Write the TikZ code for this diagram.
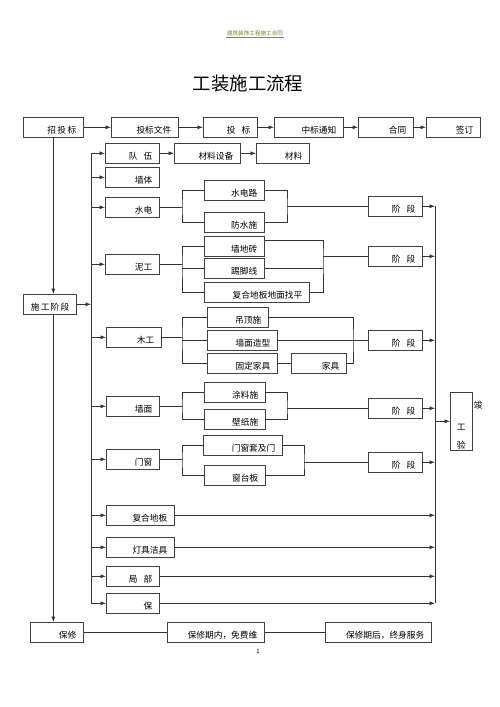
\documentclass[tikz,border=0pt]{standalone}
\usepackage{fontspec}
\setmainfont{Noto Sans CJK SC}
\usetikzlibrary{arrows.meta}
\definecolor{hdcol}{RGB}{120,130,40}
\newcommand\kg{\hspace{6pt}}

\begin{document}
\begin{tikzpicture}[x=1pt, y=-1pt,
    box/.style={draw=black!75, line width=0.6pt, anchor=north west, minimum height=20pt,
      inner xsep=7pt, inner ysep=2.5pt, text width=#1-14pt, align=right,
      text height=14pt, text depth=1pt, font=\fontsize{8.7}{10}\selectfont},
    jl/.style={font=\fontsize{8.7}{10}\selectfont, inner sep=0pt},
    ln/.style={draw=black!80, line width=0.7pt},
    arr/.style={ln, -{Latex[length=5.5pt,width=4pt]}}]
\useasboundingbox (0,0) rectangle (500,707);
\fill[white] (0,0) rectangle (500,707);

\node[text=hdcol, font=\fontsize{5.6}{6}\selectfont, inner sep=1pt] (hd) at (255,33) {建筑装饰工程施工合同};
\draw[gray, line width=0.4pt] (hd.south west) -- (hd.south east);
\node[font=\fontsize{18.4}{20}\selectfont, inner sep=0pt] (title) at (248,84) {工装施工流程};

% zhaobiao row
\node[box=60pt] (zb) at (23,117) {招\,投\,标};
\node[box=67pt] (tbwj) at (111,117) {投标文件};
\node[box=54pt] (tb) at (203,117) {投\kg 标};
\node[box=69pt] (zbtz) at (274,117) {中标通知};
\node[box=55pt] (ht) at (358,117) {合同};
\node[box=54pt] (qd) at (426,117) {签订};

\draw[arr] (zb) -- (tbwj);
\draw[arr] (tbwj) -- (tb);
\draw[arr] (tb) -- (zbtz);
\draw[arr] (zbtz) -- (ht);
\draw[arr] (ht) -- (qd);

\node[box=53pt] (sgjd) at (23,294) {\mbox{施\hspace{1.2pt}工\hspace{1.2pt}阶\hspace{1.2pt}段}};
\node[box=53pt] (bx) at (30,622) {保修};
\node[box=97pt] (bxn) at (167,622) {保修期内，免费维};
\node[box=106pt] (bxh) at (325,622) {保修期后，终身服务};

\draw[arr] (zb.south) -- (zb.south |- sgjd.north);
\draw[arr] (sgjd.south -| zb.south) -- (bx.north -| zb.south);
\draw[ln] (bx) -- (bxn);
\draw[ln] (bxn) -- (bxh);

% shigong
\node[box=54pt] (dw) at (105,143) {队\kg 伍};
\node[box=66pt] (clsb) at (174,143) {材料设备};
\node[box=53pt] (cl) at (256,143) {材料};
\node[box=54pt] (qt) at (105,167) {墙体};
\node[box=54pt] (sd) at (105,197) {水电};
\node[box=60pt] (sdl) at (204,180) {水电路};
\node[box=60pt] (fs) at (204,212) {防水施};
\node[box=54pt] (ng) at (105,254) {泥工};
\node[box=60pt] (qdz) at (204,236) {墙地砖};
\node[box=60pt] (tjx) at (204,258) {踢脚线};
\node[box=105pt] (fhzp) at (204,282) {复合地板地面找平};
\node[box=55pt] (mg) at (106,327) {木工};
\node[box=61pt] (dd) at (207,307) {吊顶施};
\node[box=70pt] (qmzx) at (207,330) {墙面造型};
\node[box=70pt] (gdjj) at (207,353) {固定家具};
\node[box=55pt] (jj) at (291,353) {家具};
\node[box=53pt] (qm) at (106,396) {墙面};
\node[box=61pt] (tl) at (204,382) {涂料施};
\node[box=61pt] (bz) at (204,409) {壁纸施};
\node[box=53pt] (mc) at (106,449) {门窗};
\node[box=79pt] (mct) at (203,435) {门窗套及门};
\node[box=61pt] (ctb) at (204,465) {窗台板};
\node[box=68pt] (fhdb) at (106,505) {复合地板};
\node[box=68pt] (djjj) at (106,537) {灯具洁具};
\node[box=53pt] (jb) at (106,566) {局\kg 部};
\node[box=53pt] (bao) at (106,593) {保};

\node[box=54pt] (jd1) at (368,196) {阶\kg 段};
\node[box=54pt] (jd2) at (368,246) {阶\kg 段};
\node[box=54pt] (jd3) at (368,330) {阶\kg 段};
\node[box=54pt] (jd4) at (368,398) {阶\kg 段};
\node[box=54pt] (jd5) at (368,452) {阶\kg 段};

\node[draw=black!75, line width=0.6pt, anchor=north west, minimum width=22pt,
  minimum height=58pt, inner sep=0pt,
  label={[jl, anchor=north west, xshift=1pt, yshift=-9pt]north east:竣},
  label={[jl, yshift=-6pt]center:工},
  label={[jl, yshift=-24pt]center:验}] (jgy) at (450,392) {};

\coordinate (bus) at (91,153);
\coordinate (rbus) at (435,206);
\coordinate (lb) at (182,0);
\coordinate (r1) at (287,0);
\coordinate (r2) at (323,0);
\coordinate (r3) at (353,0);
\coordinate (r5) at (304,0);

\draw[ln] (bus |- dw) -- (bus |- bao);
\draw[arr] (sgjd) -- (sgjd -| bus);
\foreach \n in {dw,qt,sd,ng,mg,qm,mc,fhdb,djjj,jb,bao}
  \draw[arr] (\n -| bus) -- (\n);
\draw[arr] (dw) -- (clsb);
\draw[arr] (clsb) -- (cl);

\draw[ln] (sd) -- (sd -| lb);
\draw[ln] (sdl.west) -| (sd -| lb) |- (fs.west);
\draw[ln] (sdl.east) -| (jd1 -| r1) |- (fs.east);
\draw[ln] (jd1 -| r1) -- (jd1);

\draw[ln] (ng) -- (ng -| lb);
\draw[ln] (qdz.west) -| (ng -| lb) |- (fhzp.west);
\draw[ln] (tjx.west) -- (tjx.west -| lb);
\draw[ln] ([yshift=-4pt]qdz.north east) -| (jd2 -| r2) |- (fhzp.east);
\draw[ln] (tjx.east) -- (tjx.east -| r2);
\draw[ln] (jd2 -| r2) -- (jd2);

\draw[ln] (mg) -- (mg -| lb);
\draw[ln] (dd.west) -| (mg -| lb) |- (gdjj.west);
\draw[ln] (qmzx.west) -- (qmzx.west -| lb);
\draw[ln] (dd.east) -| (jd3 -| r3) |- (jj.east);
\draw[ln] (qmzx) -- (jd3);
\draw[ln] (gdjj) -- (jj);

\draw[ln] (qm) -- (qm -| lb);
\draw[ln] (tl.west) -| (qm -| lb) |- (bz.west);
\draw[ln] (tl.east) -| (jd4 -| r1) |- (bz.east);
\draw[ln] (jd4 -| r1) -- (jd4);

\draw[ln] (mc) -- (mc -| lb);
\draw[ln] (mct.west) -| (mc -| lb) |- (ctb.west);
\draw[ln] (mct.east) -| (jd5 -| r5) |- (ctb.east);
\draw[ln] (jd5 -| r5) -- (jd5);

\draw[ln] (rbus |- jd1) -- (rbus |- bao);
\foreach \n in {jd1,jd2,jd3,jd4,jd5,fhdb,djjj,jb,bao}
  \draw[arr] (\n) -- (\n -| rbus);
\draw[arr] (rbus |- jgy) -- (jgy);

\node[font=\fontsize{6}{7}\selectfont, inner sep=0pt] (pg) at (258,651) {1};
\end{tikzpicture}
\end{document}
